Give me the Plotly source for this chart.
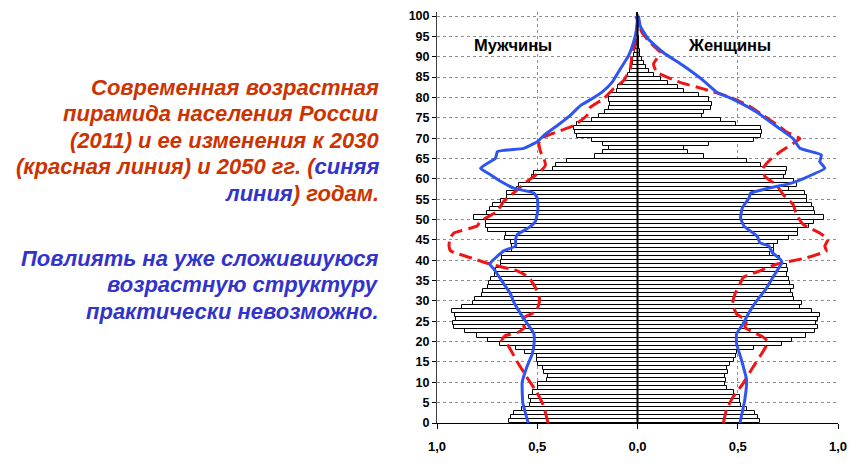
import plotly.graph_objects as go

# page body has an 8px default margin, so the figure is drawn 8px in
SHIFT = 8
W, H = 863, 464
# plot area in screen pixels: x -1..1 -> 437..838, age 0..101 -> 423..9
L = 437 - SHIFT
T = 9 - SHIFT
R = W - (838 - SHIFT)
B = H - (423 - SHIFT)

RED = "#cc3300"
BLUE = "#3333cc"
LINE_RED = "#f01414"
LINE_BLUE = "#2f55f0"

# 2011 population by single year of age, % of total
ages = list(range(101))
male_2011 = [
    0.64, 0.633, 0.617, 0.577, 0.537, 0.53, 0.54, 0.52, 0.495, 0.495,
    0.45, 0.445, 0.466, 0.47, 0.495, 0.503, 0.503, 0.56, 0.607, 0.687,
    0.744, 0.80, 0.86, 0.915, 0.918, 0.905, 0.91, 0.927, 0.877, 0.82,
    0.81, 0.774, 0.77, 0.744, 0.74, 0.73, 0.713, 0.708, 0.683, 0.683,
    0.675, 0.675, 0.625, 0.625, 0.633, 0.66, 0.655, 0.746, 0.758, 0.758,
    0.813, 0.75, 0.737, 0.72, 0.683, 0.653, 0.65, 0.6, 0.592, 0.534,
    0.526, 0.517, 0.42, 0.409, 0.351, 0.21, 0.17, 0.14, 0.17, 0.225,
    0.30, 0.31, 0.318, 0.30, 0.227, 0.194, 0.16, 0.144, 0.136, 0.144,
    0.14, 0.103, 0.095, 0.07, 0.056, 0.045, 0.036, 0.028, 0.023, 0.02,
    0.017, 0.013, 0.01, 0.008, 0.006, 0.005, 0.004, 0.003, 0.002, 0.002,
    0.002,
]
female_2011 = [
    0.61, 0.60, 0.584, 0.547, 0.514, 0.51, 0.51, 0.48, 0.448, 0.435,
    0.44, 0.435, 0.453, 0.444, 0.46, 0.48, 0.49, 0.494, 0.58, 0.72,
    0.77, 0.84, 0.887, 0.9, 0.89, 0.9, 0.91, 0.87, 0.81, 0.82,
    0.78, 0.776, 0.766, 0.78, 0.763, 0.755, 0.746, 0.75, 0.746, 0.72,
    0.713, 0.663, 0.68, 0.68, 0.7, 0.755, 0.8, 0.8, 0.855, 0.88,
    0.93, 0.887, 0.88, 0.87, 0.846, 0.846, 0.837, 0.755, 0.793, 0.78,
    0.73, 0.74, 0.746, 0.614, 0.547, 0.33, 0.25, 0.23, 0.355, 0.58,
    0.614, 0.622, 0.614, 0.49, 0.415, 0.323, 0.33, 0.365, 0.373, 0.357,
    0.307, 0.232, 0.2, 0.15, 0.116, 0.083, 0.058, 0.041, 0.03, 0.02,
    0.013, 0.011, 0.009, 0.007, 0.005, 0.004, 0.003, 0.003, 0.002, 0.002,
    0.002,
]

# 2050 projection (blue line)
blue_m_age = [0, 5, 10, 14, 17, 20, 22, 25, 27.8, 30, 31.7, 34.2, 37.8, 39,
              39.8, 42.3, 43.5, 45.1, 46.3, 48, 49.6, 52.4, 55.3, 56.5, 57.7,
              59.4, 61, 62.6, 65.1, 66.7, 67.5, 69.1, 70.7, 73.1, 75.6, 78,
              79.7, 81.3, 83.7, 87, 90.2, 93.5, 96.7, 99, 100]
blue_m_val = [0.545, 0.572, 0.575, 0.55, 0.525, 0.515, 0.517, 0.558, 0.595,
              0.62, 0.633, 0.667, 0.716, 0.737, 0.725, 0.667, 0.608, 0.608,
              0.6, 0.542, 0.509, 0.497, 0.5, 0.517, 0.617, 0.683, 0.733,
              0.783, 0.708, 0.699, 0.567, 0.5, 0.467, 0.4, 0.335, 0.285,
              0.227, 0.177, 0.127, 0.086, 0.045, 0.02, 0.005, 0.0, 0.01]
blue_f_age = [0, 5.7, 10.6, 15.4, 19.5, 21.9, 24.4, 26.8, 30, 32.9, 36.2,
              39.4, 40.2, 41.9, 43.5, 44.3, 45.9, 48.4, 50.4, 52.9, 55.3,
              56.5, 58.9, 60.2, 62.6, 64.2, 65.9, 67.5, 69.9, 72.3, 76.4,
              79.7, 81.3, 84.5, 87.8, 91, 94.3, 97.5, 100]
blue_f_val = [0.511, 0.535, 0.544, 0.519, 0.494, 0.494, 0.527, 0.552, 0.594,
              0.64, 0.68, 0.72, 0.713, 0.672, 0.655, 0.61, 0.597, 0.531,
              0.514, 0.523, 0.556, 0.564, 0.763, 0.834, 0.934, 0.909, 0.917,
              0.81, 0.776, 0.71, 0.594, 0.47, 0.395, 0.32, 0.229, 0.13,
              0.055, 0.014, 0.005]

# 2030 projection (red dashed line)
red_m_age = [0, 4.4, 7.7, 11.4, 15.4, 19, 20.2, 21.4, 22.3, 23.5, 24.7, 25.9,
             27.5, 30.4, 32.8, 35.8, 37.4, 39, 40.6, 42.3, 43.5, 45.5, 46.7,
             48.4, 49.6, 52, 54.5, 56.9, 59.4, 61.8, 63.4, 65.1, 66.7, 68.7,
             69.9, 71.1, 73.1, 75.6, 77.6, 79.7, 82.1, 84.1, 87, 90.2, 93.5,
             96.7, 100]
red_m_val = [0.446, 0.47, 0.504, 0.554, 0.604, 0.645, 0.678, 0.662, 0.595,
             0.562, 0.579, 0.567, 0.504, 0.488, 0.504, 0.542, 0.6, 0.733,
             0.832, 0.932, 0.94, 0.935, 0.915, 0.8, 0.783, 0.7, 0.667, 0.608,
             0.55, 0.484, 0.459, 0.467, 0.484, 0.492, 0.484, 0.426, 0.318,
             0.252, 0.235, 0.169, 0.12, 0.07, 0.036, 0.028, 0.01, 0.003, 0.0]
red_f_age = [0, 3.3, 6.5, 9.8, 13.8, 17, 19.1, 20, 21.1, 21.9, 23.5, 25.2,
             26.8, 29.3, 31.7, 34.2, 35.8, 37.4, 39, 40.6, 42.3, 43.5, 45.1,
             46.7, 48.8, 51.2, 53.7, 56.1, 58.5, 60.6, 62.6, 64.6, 66.6, 68.7,
             69.9, 71.5, 73.1, 75.6, 78, 80.1, 82.1, 83.7, 86.2, 88.2, 91,
             93.5, 96, 98.5, 100]
red_f_val = [0.428, 0.444, 0.478, 0.528, 0.577, 0.619, 0.644, 0.65, 0.627,
             0.594, 0.536, 0.544, 0.494, 0.474, 0.486, 0.511, 0.528, 0.61,
             0.693, 0.843, 0.942, 0.934, 0.95, 0.909, 0.826, 0.793, 0.776,
             0.727, 0.693, 0.635, 0.627, 0.66, 0.71, 0.776, 0.81, 0.743,
             0.702, 0.627, 0.552, 0.461, 0.328, 0.212, 0.096, 0.08, 0.113,
             0.063, 0.022, 0.005, 0.0]

x_ticks = [-1, -0.5, 0, 0.5, 1]
x_labels = ["1,0", "0,5", "0,0", "0,5", "1,0"]

text_lines = [
    "Современная возрастная",
    "пирамида населения России",
    "(2011) и ее изменения к 2030",
    "(красная линия) и 2050 гг. (<span style='color:%s'>синяя</span>" % BLUE,
    "<span style='color:%s'>линия</span>) годам." % BLUE,
]
text_lines2 = [
    "Повлиять на уже сложившуюся",
    "возрастную структуру",
    "практически невозможно.",
]


def paper(x, y):
    # screen pixel -> paper coordinates of the plot area
    x, y = x - SHIFT, y - SHIFT
    return (x - L) / (W - L - R), (H - B - y) / (H - T - B)


fig = go.Figure()

bar_y = [a + 0.5 for a in ages]
bar_style = dict(color="white", line=dict(color="black", width=1))
fig.add_trace(go.Bar(y=bar_y, x=[-v for v in male_2011], orientation="h",
                     width=1, marker=bar_style))
fig.add_trace(go.Bar(y=bar_y, x=female_2011, orientation="h",
                     width=1, marker=bar_style))

red_line = dict(color=LINE_RED, width=3, dash="13px,6px", shape="spline", smoothing=0.4)
blue_line = dict(color=LINE_BLUE, width=3, shape="spline", smoothing=0.4)
fig.add_trace(go.Scatter(x=[-v for v in red_m_val], y=red_m_age, mode="lines", line=red_line))
fig.add_trace(go.Scatter(x=red_f_val, y=red_f_age, mode="lines", line=red_line))
fig.add_trace(go.Scatter(x=[-v for v in blue_m_val], y=blue_m_age, mode="lines", line=blue_line))
fig.add_trace(go.Scatter(x=blue_f_val, y=blue_f_age, mode="lines", line=blue_line))

# central axis
fig.add_shape(type="line", xref="x", yref="paper", x0=0, x1=0, y0=0, y1=100.5 / 101,
              line=dict(color="black", width=2), layer="above")

font = "Liberation Sans, Arial, sans-serif"
fig.add_annotation(x=-0.62, y=93, text="Мужчины", showarrow=False,
                   font=dict(family=font, size=16.5, color="black", weight="bold"))
fig.add_annotation(x=0.46, y=93, text="Женщины", showarrow=False,
                   font=dict(family=font, size=16.5, color="black", weight="bold"))

for i, line in enumerate(text_lines):
    px_, py_ = paper(381, 85 + i * 26.7)
    fig.add_annotation(xref="paper", yref="paper", x=px_, y=py_, text=line,
                       showarrow=False, xanchor="right", yanchor="middle",
                       font=dict(family=font, size=22, color=RED, weight="bold", style="italic"))
for i, line in enumerate(text_lines2):
    px_, py_ = paper(381, 257 + i * 26.7)
    fig.add_annotation(xref="paper", yref="paper", x=px_, y=py_, text=line,
                       showarrow=False, xanchor="right", yanchor="middle",
                       font=dict(family=font, size=22, color=BLUE, weight="bold", style="italic"))

fig.update_layout(
    width=W, height=H,
    margin=dict(l=L, r=R, t=T, b=B),
    paper_bgcolor="white", plot_bgcolor="white",
    barmode="overlay", bargap=0,
    showlegend=False,
)
fig.update_xaxes(
    range=[-1, 1], tickvals=x_ticks, ticktext=x_labels,
    showgrid=True, gridcolor="#909090", griddash="dot", gridwidth=1,
    zeroline=False, showline=True, linecolor="black", linewidth=1,
    ticks="outside", ticklen=5, tickcolor="black", ticklabelstandoff=6,
    ticklabeloverflow="allow",
    tickfont=dict(family=font, size=13, color="black", weight="bold"),
)
fig.update_yaxes(
    range=[0, 101], tickvals=list(range(0, 101, 5)),
    showgrid=True, gridcolor="#909090", griddash="dot", gridwidth=1,
    zeroline=False, showline=True, linecolor="#404040", linewidth=1,
    ticks="outside", ticklen=4, tickcolor="black",
    ticklabeloverflow="allow",
    tickfont=dict(family=font, size=12.5, color="black", weight="bold"),
)

fig.write_html("out.html")
